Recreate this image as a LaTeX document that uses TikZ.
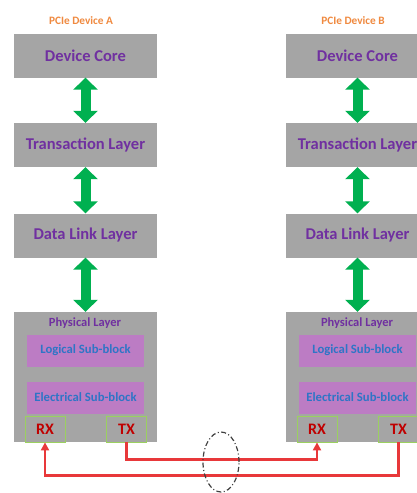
\documentclass[tikz,border=0pt]{standalone}
\usepackage{fontspec}
\setmainfont{Carlito}
\usetikzlibrary{arrows.meta, shapes.geometric}
\definecolor{boxgray}{HTML}{A5A5A5}
\definecolor{layerpurple}{HTML}{7030A0}
\definecolor{subpink}{HTML}{BC7CC4}
\definecolor{subblue}{HTML}{2E75C6}
\definecolor{portgreen}{HTML}{9BD060}
\definecolor{portred}{HTML}{C00000}
\definecolor{arrowgreen}{HTML}{00B050}
\definecolor{linkred}{HTML}{E8383A}
\definecolor{titleorange}{HTML}{F08A40}
\tikzset{
  layer/.style = {fill=boxgray, minimum width=143pt, minimum height=44pt, inner sep=0pt,
    text=layerpurple, font=\bfseries\fontsize{16.5}{18}\selectfont},
  phys/.style = {fill=boxgray, minimum width=143pt, minimum height=130pt, inner sep=0pt},
  subblock/.style = {fill=subpink, minimum width=117pt, minimum height=32pt, inner sep=0pt,
    text=subblue, font=\bfseries\fontsize{12.7}{14}\selectfont},
  port/.style = {draw=portgreen, line width=0.8pt, minimum width=40pt, minimum height=26pt,
    inner sep=0pt, text=portred, font=\bfseries\fontsize{16}{18}\selectfont},
  updown/.style = {draw=arrowgreen, line width=10pt,
    {Triangle[width=24pt,length=12pt]}-{Triangle[width=24pt,length=12pt]}},
  redlink/.style = {draw=linkred, line width=2.2pt, -{Triangle[width=8pt,length=8pt]}}
}
\begin{document}
\begin{tikzpicture}[x=1pt, y=-1pt]
\clip (0,0) rectangle (417,493);
\fill[white] (0,0) rectangle (417,493);
\foreach \dev/\dx in {A/0, B/272} {
  \node[text=titleorange, font=\bfseries\fontsize{11.3}{13}\selectfont] (title\dev) at (81+\dx,21) {PCIe Device \dev};
  \node[layer] (core\dev) at (85.5+\dx,55.5) {Device Core};
  \node[layer] (trans\dev) at (85.5+\dx,145) {Transaction Layer};
  \node[layer] (link\dev) at (85.5+\dx,235.5) {Data Link Layer};
  \node[phys] (phys\dev) at (85.5+\dx,377) {};
  \node[text=layerpurple, font=\bfseries\fontsize{12.5}{14}\selectfont] (physlabel\dev) at (85+\dx,323) {Physical Layer};
  \node[subblock] (logical\dev) at (85.5+\dx,350.5) {Logical Sub-block};
  \node[subblock] (electrical\dev) at (85.5+\dx,397.5) {Electrical Sub-block};
  \node[port] (rx\dev) at (45+\dx,429) {RX};
  \node[port] (tx\dev) at (126.5+\dx,429) {TX};
  \draw[updown] (core\dev.south) -- (trans\dev.north);
  \draw[updown] (trans\dev.south) -- (link\dev.north);
  \draw[updown] (link\dev.south) -- (phys\dev.north);
}
\draw[redlink] (txA.south) -- ++(0,17) -| (rxB.south);
\draw[redlink] (txB.south) -- ++(0,33) -| (rxA.south);
\node[draw=black!75, line width=1.2pt, dash pattern=on 5pt off 2.5pt on 1pt off 2.5pt,
  ellipse, minimum width=36pt, minimum height=60pt] (lane) at (221,462) {};
\end{tikzpicture}
\end{document}
